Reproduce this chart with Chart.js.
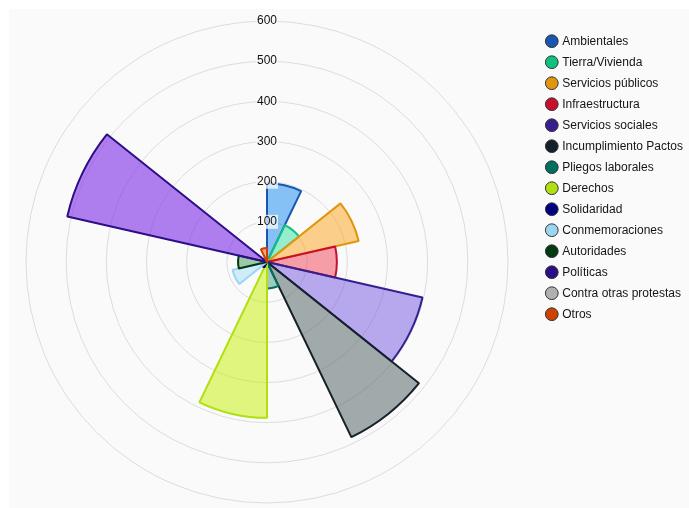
<!DOCTYPE html>
<html>
<head>
<meta charset="utf-8">
<script src="https://cdn.jsdelivr.net/npm/chart.js@4.4.1/dist/chart.umd.min.js"></script>
<style>
  html, body { margin: 0; padding: 0; background: #ffffff; overflow: hidden; width: 689px; height: 508px; }
  #panel {
    position: absolute; left: 9px; top: 9px;
    width: 680px; height: 499px; background: #fafafa;
  }
  #wrap {
    position: absolute; left: -4px; top: 10px;
    width: 697px; height: 505px;
  }
</style>
</head>
<body>
<div id="panel"></div>
<div id="wrap"><canvas id="chart"></canvas></div>
<script>
// Categories and counts
const categories = [
  'Ambientales', 'Tierra/Vivienda', 'Servicios públicos', 'Infraestructura',
  'Servicios sociales', 'Incumplimiento Pactos', 'Pliegos laborales', 'Derechos',
  'Solidaridad', 'Conmemoraciones', 'Autoridades', 'Políticas',
  'Contra otras protestas', 'Otros'
];
const counts = [196, 102, 234, 174, 397, 484, 66, 388, 15, 88, 72, 510, 0, 35];
const radialTicks = [0, 100, 200, 300, 400, 500, 600];

const fillColors = [
  'rgba(15, 135, 239, 0.5)', 'rgba(25, 225, 150, 0.45)', 'rgba(251, 161, 25, 0.5)',
  'rgba(241, 65, 85, 0.5)', 'rgba(115, 85, 225, 0.5)', 'rgba(70, 90, 90, 0.5)',
  'rgba(20, 130, 110, 0.4)', 'rgba(198, 240, 0, 0.5)', 'rgba(0, 0, 128, 0.6)',
  'rgba(165, 221, 245, 0.5)', 'rgba(20, 120, 50, 0.4)', 'rgba(123, 43, 230, 0.6)',
  'rgba(176, 176, 176, 0.5)', 'rgba(230, 90, 20, 0.5)'
];
const lineColors = [
  '#1a55b0', '#10c080', '#e0960e', '#c8102e', '#35208e', '#16202a',
  '#00705e', '#b0e010', '#000080', '#9ad6f2', '#003a12', '#2c0e86',
  '#b0b0b0', '#cc4200'
];

const ctx = document.getElementById('chart').getContext('2d');

new Chart(ctx, {
  type: 'polarArea',
  data: {
    labels: categories,
    datasets: [{
      data: counts,
      backgroundColor: fillColors,
      borderColor: lineColors,
      borderWidth: 2
    }]
  },
  options: {
    responsive: true,
    maintainAspectRatio: false,
    animation: false,
    layout: { padding: { top: 4, bottom: 5, left: 0, right: 0 } },
    plugins: {
      legend: {
        position: 'right',
        align: 'start',
        // blank title only pushes the items down a little
        title: { display: true, text: ' ', font: { size: 1 }, padding: { top: 0, bottom: 11 } },
        labels: {
          usePointStyle: true,
          pointStyle: 'circle',
          boxWidth: 9,
          boxHeight: 9,
          padding: 9,
          color: '#151515',
          font: { family: 'Liberation Sans, Arial, sans-serif', size: 12 },
          // legend dots use the solid line colour of each slice
          generateLabels: (chart) => {
            const base = Chart.PolarAreaController.overrides.plugins.legend.labels.generateLabels(chart);
            return base.map((item, i) => ({
              ...item,
              fillStyle: lineColors[i],
              strokeStyle: '#333',
              lineWidth: 1
            }));
          }
        }
      },
      tooltip: { enabled: false }
    },
    scales: {
      r: {
        min: 0,
        max: 600,
        afterBuildTicks: (scale) => {
          scale.ticks = radialTicks.map(v => ({ value: v }));
        },
        grid: { color: '#dcdcdc', lineWidth: 1 },
        angleLines: { display: false },
        pointLabels: { display: false },
        ticks: {
          color: '#111',
          font: { family: 'Liberation Sans, Arial, sans-serif', size: 12 },
          backdropColor: 'rgba(250, 250, 250, 0.75)',
          backdropPadding: 1,
          z: 1
        }
      }
    }
  }
});
</script>
</body>
</html>
